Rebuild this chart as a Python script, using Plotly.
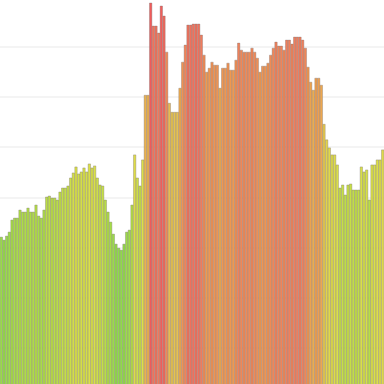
import plotly.graph_objects as go

values = [
    32.1, 31.5, 32.3, 33.1, 35.5, 35.9, 35.9, 37.5, 37.1, 37.1,
    37.9, 37.1, 37.1, 38.5, 36.3, 35.9, 37.5, 40.1, 40.3, 39.9,
    39.9, 39.5, 41.1, 41.9, 41.9, 42.3, 43.9, 44.9, 46.1, 44.7,
    45.1, 45.9, 45.1, 46.7, 45.9, 46.3, 43.9, 42.5, 42.3, 39.5,
    37.1, 35.1, 32.7, 30.7, 29.9, 29.5, 30.7, 33.1, 33.5, 38.5,
    48.5, 43.9, 42.3, 47.5, 60.4, 60.4, 78.8, 74.2, 74.2, 72.8,
    78.2, 76.2, 69.0, 58.8, 57.0, 57.0, 57.0, 61.8, 67.0, 70.4,
    74.4, 74.4, 74.6, 74.6, 74.6, 72.4, 68.4, 65.0, 65.8, 67.0,
    66.4, 66.4, 61.8, 65.8, 65.8, 66.8, 65.4, 65.4, 67.4, 70.8,
    69.4, 69.0, 69.0, 69.0, 69.8, 69.0, 67.8, 65.0, 66.2, 66.2,
    66.8, 68.4, 69.8, 71.0, 70.2, 70.2, 69.4, 71.4, 71.4, 70.6,
    72.0, 72.0, 72.0, 71.4, 69.8, 66.0, 63.0, 61.4, 63.8, 63.8,
    62.4, 54.6, 51.5, 49.9, 48.5, 48.5, 46.5, 41.9, 42.5, 40.5,
    42.5, 42.7, 41.5, 41.5, 41.5, 46.1, 45.1, 45.5, 39.5, 46.5,
    46.5, 47.5, 47.5, 49.5,
]
categories = list(range(len(values)))

colorscale = [
    [0.0, "#8fdc48"],
    [0.2, "#b8de44"],
    [0.35, "#dde046"],
    [0.55, "#e6c24e"],
    [0.72, "#f0984e"],
    [0.86, "#f07c5c"],
    [1.0, "#f05a5a"],
]

fig = go.Figure(go.Bar(
    x=categories,
    y=values,
    marker=dict(
        color=values,
        colorscale=colorscale,
        cmin=30,
        cmax=79,
        showscale=False,
        line=dict(color="rgba(125,115,115,0.6)", width=0.6),
    ),
))

fig.update_layout(
    width=384,
    height=384,
    margin=dict(l=0, r=0, t=0, b=0),
    paper_bgcolor="white",
    plot_bgcolor="white",
    bargap=0.1,
    showlegend=False,
    xaxis=dict(visible=False, range=[-0.5, len(values) - 0.5]),
    yaxis=dict(
        range=[2.8, 79.4],
        showticklabels=False,
        tick0=0,
        dtick=10,
        showgrid=True,
        gridcolor="#f4f4f4",
        gridwidth=2,
        zeroline=False,
    ),
)

fig.write_html("out.html")
